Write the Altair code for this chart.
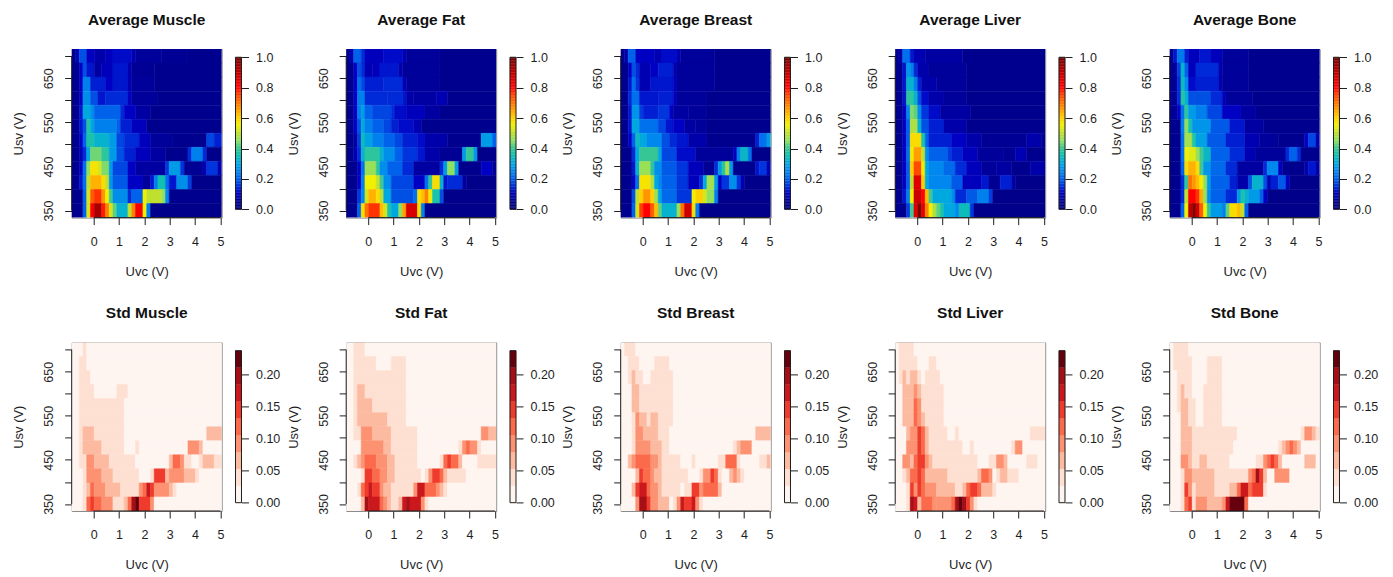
import altair as alt
import pandas as pd

# Every row is read top-to-bottom from the picture, as (run of columns, value) pairs over 40 Uvc columns.
# Average panels: value in hundredths of the 0..1 scale. Std panels: value in hundredths of a volt.
avg_muscle = [
 [1,2,1,8,2,18,2,10,3,7,2,9,5,11,1,8,7,5,7,4,9,3],
 [2,3,1,10,1,18,2,12,2,6,3,9,4,12,1,8,6,4,18,3],
 [2,3,1,10,2,24,4,13,2,10,4,12,1,8,6,5,18,3],
 [2,3,1,10,2,26,2,18,2,12,6,14,1,10,7,5,17,3],
 [2,3,1,12,2,30,1,26,7,20,1,14,3,10,4,6,19,3],
 [2,3,1,12,1,18,1,37,1,30,6,24,1,20,3,13,4,9,20,3],
 [2,3,1,10,1,20,2,36,4,32,2,28,2,17,4,14,3,9,6,5,9,3,2,17,2,13],
 [2,3,1,8,1,14,1,30,3,43,2,38,2,28,2,18,3,13,4,9,4,6,6,3,1,14,3,24,1,14,4,2],
 [2,3,1,10,1,22,1,45,2,57,1,52,2,44,1,28,4,17,2,10,8,6,1,15,3,28,1,15,5,4,1,8,3,15,1,8],
 [2,3,1,12,1,22,1,50,3,63,1,58,1,50,1,27,4,19,4,10,2,5,1,12,1,24,2,35,1,22,2,12,3,26,1,16,8,2],
 [3,3,1,20,1,52,1,72,2,76,1,66,1,55,1,40,4,26,1,14,3,20,1,55,4,50,1,45,1,25,14,3],
 [3,3,1,20,1,52,1,80,2,93,1,78,1,68,1,52,1,42,3,32,1,50,1,68,2,82,1,55,1,24,19,2],
]
avg_fat = [
 [1,3,1,8,2,20,1,14,5,9,5,11,1,8,9,5,15,3],
 [2,3,1,10,1,18,1,14,2,8,2,9,5,12,1,8,10,5,15,3],
 [2,3,1,10,1,22,1,17,5,13,5,14,1,9,9,5,15,3],
 [2,3,1,10,2,24,6,14,4,14,1,12,2,7,6,6,3,8,13,3],
 [2,3,1,10,1,24,1,28,2,20,5,17,1,14,3,11,5,9,4,6,15,3],
 [2,3,1,10,1,18,1,30,2,24,3,20,2,17,2,13,4,11,2,8,20,3],
 [2,3,1,6,1,16,1,34,2,29,3,24,3,20,2,17,4,13,2,11,6,7,9,3,3,28,1,20],
 [2,3,1,8,1,14,1,32,4,38,1,32,3,26,2,20,4,15,2,12,4,7,6,4,1,28,2,39,1,28,5,2],
 [3,3,1,10,1,22,3,46,1,38,2,26,4,20,3,14,7,6,1,14,1,28,2,45,1,28,6,3,3,10,1,4],
 [3,3,1,10,1,24,3,55,1,50,1,40,2,26,6,17,3,10,1,22,1,38,2,58,1,32,1,12,4,14,1,6,8,2],
 [3,3,1,15,1,25,1,52,2,63,1,58,1,50,2,30,6,18,1,22,1,58,1,62,1,68,1,56,2,36,1,18,14,2],
 [3,3,1,20,1,58,1,70,3,76,1,62,1,52,1,36,2,30,1,45,1,65,3,86,1,58,1,24,19,2],
]
avg_breast = [
 [1,3,1,7,2,20,5,10,2,8,4,11,1,8,9,5,15,3],
 [2,3,1,10,1,18,1,14,3,8,2,10,4,13,1,8,10,5,15,3],
 [2,3,1,12,1,22,1,15,3,8,6,12,1,9,10,5,15,3],
 [2,3,1,14,2,22,5,12,4,13,1,9,8,5,17,3],
 [2,3,1,12,2,27,1,16,4,13,3,15,1,10,4,6,5,5,17,3],
 [2,3,1,12,2,30,5,22,2,17,2,12,3,10,3,6,3,5,17,3],
 [2,3,1,10,1,20,1,34,2,30,4,25,2,18,2,14,3,12,5,7,13,3,1,13,2,22,1,28],
 [3,3,1,14,1,30,5,39,1,30,4,17,5,11,10,5,1,9,1,24,2,33,1,22,5,2],
 [3,3,1,12,1,32,3,46,1,38,2,26,4,19,3,15,4,9,3,4,1,14,1,28,1,38,1,48,1,28,6,3,1,12,2,15,1,8],
 [3,3,1,10,1,22,3,57,1,48,1,30,1,25,4,20,3,15,3,9,1,14,1,30,2,47,1,28,1,10,2,15,2,26,1,15,1,8,7,2],
 [3,3,1,18,1,50,1,60,2,66,1,60,1,46,1,30,4,21,4,15,1,55,2,60,1,52,2,45,1,24,14,2],
 [3,3,1,20,1,52,1,75,2,80,1,72,1,62,1,42,4,32,1,46,1,70,2,88,1,58,1,24,19,2],
]
avg_liver = [
 [1,3,1,7,2,22,1,12,3,8,10,6,22,3],
 [2,3,1,12,1,28,1,24,1,14,3,7,10,5,21,3],
 [2,3,1,12,2,32,1,24,1,13,4,7,8,5,21,3],
 [2,3,1,12,2,38,1,32,1,18,2,11,4,7,6,5,21,3],
 [2,3,1,10,1,25,1,44,1,42,1,26,2,15,3,11,8,6,20,3],
 [2,3,1,10,1,20,2,48,1,32,2,18,4,13,6,7,21,3],
 [2,3,1,10,1,20,3,58,1,36,1,20,6,13,4,10,4,7,12,4,4,7,1,4],
 [2,3,1,10,1,22,1,56,2,65,1,50,1,26,5,20,1,16,3,13,4,9,7,5,3,4,3,8,5,3],
 [2,3,1,10,1,20,1,60,2,74,1,56,1,30,4,25,3,21,3,14,4,9,4,5,4,6,5,3,4,7],
 [2,3,1,10,1,20,1,50,2,85,1,60,1,30,6,25,3,19,5,9,2,12,3,4,3,13,1,7,8,2],
 [2,3,1,12,1,24,1,55,2,88,1,80,1,62,1,40,5,30,1,26,3,14,3,19,3,24,1,16,14,2],
 [3,3,1,16,1,40,1,85,1,98,1,85,1,68,1,55,1,48,1,42,1,36,3,30,1,25,3,34,1,15,19,2],
]
avg_bone = [
 [1,3,1,12,2,23,1,13,3,9,3,12,3,9,7,5,19,3],
 [2,4,1,16,1,32,1,20,2,9,6,14,1,8,7,5,19,3],
 [2,4,1,14,1,34,1,26,2,11,6,13,1,8,7,5,19,3],
 [2,4,1,14,1,37,1,32,2,18,4,18,3,14,1,9,7,5,18,3],
 [2,4,1,10,1,22,1,38,2,28,3,24,4,17,5,10,4,6,17,3],
 [3,3,1,24,1,45,1,36,5,27,5,19,4,12,5,6,15,3],
 [3,3,1,22,2,47,1,37,3,29,5,19,5,13,4,8,5,5,7,3,1,10,2,17,1,8],
 [3,3,1,22,1,55,2,53,1,46,1,40,2,33,5,20,4,14,3,8,8,5,1,14,2,20,1,14,5,3],
 [3,3,1,20,1,58,2,63,1,58,1,40,2,27,4,21,3,14,7,6,1,14,3,25,1,10,6,3,1,7,2,12,1,7],
 [3,3,1,14,1,38,1,70,1,66,1,62,1,56,1,45,1,28,5,20,2,13,3,7,1,18,3,32,1,18,1,8,2,13,2,19,1,10,8,2],
 [3,3,1,14,1,50,2,80,1,76,1,64,1,46,1,26,4,20,3,14,1,28,1,36,1,32,3,28,1,20,1,10,14,2],
 [3,3,1,20,1,55,1,90,1,97,1,88,1,72,1,55,1,38,3,28,1,24,1,42,2,58,1,62,1,50,1,20,19,2],
]
std_muscle = [
 [3,1,1,4,36,1],
 [2,1,2,4,36,1],
 [2,1,3,4,35,1],
 [2,1,4,4,6,1,3,4,25,1],
 [2,1,12,4,26,1],
 [2,1,12,4,26,1],
 [2,1,1,4,3,7,8,4,22,1,4,7],
 [2,1,1,4,5,7,6,4,3,1,1,4,13,1,3,9,1,7,5,1],
 [2,1,2,4,2,9,4,7,7,4,9,1,1,7,2,12,1,9,2,4,2,1,1,4,3,7,2,4],
 [3,1,1,4,4,9,3,7,7,4,3,1,1,4,3,15,1,7,4,9,3,7,1,4,6,1],
 [3,1,1,4,1,7,1,12,3,9,4,7,5,4,1,9,1,12,1,17,1,15,4,9,1,7,1,4,12,1],
 [3,1,1,4,1,12,1,15,2,12,3,9,3,4,1,7,1,12,1,20,1,22,3,15,1,9,18,1],
]
std_fat = [
 [2,1,3,4,35,1],
 [2,1,6,4,4,1,4,4,24,1],
 [2,1,14,4,24,1],
 [2,1,1,4,2,7,11,4,24,1],
 [2,1,1,4,4,7,9,4,24,1],
 [2,1,1,4,8,7,5,4,24,1],
 [2,1,2,4,3,9,5,7,7,4,17,1,2,9,2,7],
 [4,1,6,9,2,7,7,4,11,1,1,4,1,9,1,12,2,9,1,4,4,1],
 [2,1,1,4,1,7,1,9,3,12,3,9,2,7,6,4,6,1,1,4,1,12,1,15,2,12,1,7,4,1,5,4],
 [4,1,1,4,2,15,2,12,2,9,2,7,7,4,1,1,1,4,1,9,2,15,1,12,1,7,5,4,8,1],
 [3,1,1,4,1,12,1,15,1,17,2,15,1,9,2,7,6,4,1,9,2,17,3,12,1,9,1,7,1,4,13,1],
 [4,1,1,7,1,20,3,17,1,12,1,9,1,7,2,4,1,7,1,17,1,20,3,17,1,9,1,4,18,1],
]
std_breast = [
 [1,1,3,4,36,1],
 [2,1,3,4,4,1,4,4,27,1],
 [2,1,1,4,1,7,2,4,2,1,6,4,26,1],
 [3,1,2,7,9,4,26,1],
 [3,1,2,7,9,4,26,1],
 [3,1,1,4,1,9,2,7,1,4,2,7,4,4,26,1],
 [3,1,1,4,2,9,4,7,3,4,23,1,4,7],
 [3,1,1,4,4,9,3,7,2,4,17,1,1,4,1,7,3,9,5,1],
 [2,1,1,7,1,9,4,12,1,9,1,9,1,7,5,4,3,1,1,4,6,1,2,4,3,12,1,4,5,1,2,4,1,7,1,4],
 [4,1,1,7,1,15,2,12,1,9,2,7,7,4,3,1,1,4,2,9,1,15,1,12,1,4,2,1,1,7,1,9,1,7,1,4,7,1],
 [3,1,1,7,1,15,2,17,1,12,2,9,1,7,5,4,1,1,2,4,2,15,1,9,4,12,1,7,13,1],
 [4,1,1,9,2,20,1,15,2,9,3,7,1,1,1,4,1,9,1,17,2,15,1,17,1,9,1,4,18,1],
]
std_liver = [
 [1,1,4,4,35,1],
 [1,1,5,4,3,1,2,4,29,1],
 [1,1,1,4,1,7,1,4,2,7,1,4,1,1,4,4,28,1],
 [2,1,3,7,1,9,1,7,6,4,27,1],
 [2,1,3,7,1,12,1,9,6,4,27,1],
 [2,1,3,7,1,12,1,9,1,7,5,4,27,1],
 [3,1,1,7,2,9,1,15,1,12,1,7,5,4,2,1,1,4,19,1,4,4],
 [3,1,3,9,1,15,1,12,1,7,9,4,2,1,1,4,10,1,1,4,2,9,6,1],
 [2,1,2,9,1,7,1,12,2,15,1,9,1,7,12,4,3,1,2,4,2,9,1,7,5,1,3,4,2,1],
 [2,1,1,4,1,7,2,12,1,15,1,12,6,7,8,4,1,7,2,12,1,9,1,1,1,4,2,7,3,4,7,1],
 [3,1,1,4,1,15,1,9,1,15,1,12,3,9,5,7,2,4,1,7,1,12,2,15,1,12,3,7,1,4,13,1],
 [3,1,1,4,1,20,1,17,1,7,3,12,1,9,4,9,1,12,1,20,1,22,1,20,1,15,1,9,1,4,18,1],
]
std_bone = [
 [1,1,4,4,35,1],
 [1,1,5,4,4,1,4,4,26,1],
 [2,1,4,4,4,1,4,4,26,1],
 [2,1,1,4,1,7,2,4,3,1,5,4,26,1],
 [2,1,1,4,2,7,2,4,2,1,5,4,26,1],
 [3,1,2,7,2,4,2,1,5,4,26,1],
 [3,1,3,7,12,4,17,1,1,4,2,9,1,7,1,4],
 [3,1,3,7,11,4,12,1,1,4,1,7,1,9,1,12,1,9,1,7,5,1],
 [3,1,2,9,1,7,2,4,2,7,6,4,7,1,2,4,1,9,1,12,1,15,1,12,1,7,6,1,3,7,1,1],
 [3,1,1,4,2,9,6,7,9,4,1,9,1,12,1,20,1,15,1,7,2,1,4,9,8,1],
 [3,1,1,4,1,15,1,9,1,4,5,7,4,4,2,7,1,12,2,17,1,12,3,15,1,4,14,1],
 [3,1,1,4,1,12,1,15,1,4,3,9,4,7,1,9,1,17,4,22,1,12,19,1],
]

panel_titles_avg = ["Average Muscle", "Average Fat", "Average Breast", "Average Liver", "Average Bone"]
panel_titles_std = ["Std Muscle", "Std Fat", "Std Breast", "Std Liver", "Std Bone"]
avg_panels = [avg_muscle, avg_fat, avg_breast, avg_liver, avg_bone]
std_panels = [std_muscle, std_fat, std_breast, std_liver, std_bone]

uvc_domain = [-0.87, 5.05]
usv_domain = [334.0, 716.5]
uvc_ticks = [0, 1, 2, 3, 4, 5]
usv_ticks = [350, 400, 450, 500, 550, 600, 650, 700]
N_COLS, N_ROWS = 40, 12

avg_stops = [0, .05, .1, .15, .2, .25, .3, .35, .4, .45, .5, .55, .6, .65, .7, .75, .8, .9, 1]
avg_colors = ["#00007f", "#00009a", "#0000c4", "#0034dc", "#0062ea", "#0088ee", "#00a8e0", "#10c0b0",
              "#40c890", "#90e060", "#c0e030", "#f0f000", "#ffd000", "#ffa000", "#ff7000", "#ff4000",
              "#ff0000", "#c00000", "#700000"]
avg_ticks = [0, .2, .4, .6, .8, 1]
std_breaks = [.0264, .0528, .0792, .1056, .132, .1583, .1847, .2111]
std_colors = ["#fff5f0", "#fee0d2", "#fcbba1", "#fc9272", "#fb6a4a", "#ef3b2c", "#cb181d", "#a50f15", "#67000d"]
std_ticks = [0, .05, .1, .15, .2]
avg_bar_levels = [i / 100 for i in range(101)]
std_bar_levels = [0.0] + std_breaks + [0.2375]

W, H = 150, 168.6
BAR_GAP, BAR_W = 13.8, 6
FONT = "Liberation Sans"
INK = "#1e1e1e"


def cells(rows):
    """Turn run-length rows into one rectangle per run, on the Uvc/Usv grid."""
    dx = (uvc_domain[1] - uvc_domain[0]) / N_COLS
    dy = (usv_domain[1] - usv_domain[0]) / N_ROWS
    out = []
    for r, row in enumerate(rows):
        c = 0
        for n, v in zip(row[0::2], row[1::2]):
            c2 = min(c + n, N_COLS)
            out.append({"x0": uvc_domain[0] + c * dx, "x1": uvc_domain[0] + c2 * dx,
                        "y1": usv_domain[1] - r * dy, "y0": usv_domain[1] - (r + 1) * dy,
                        "v": v / 100})
            c = c2
        if c < N_COLS:
            out[-1]["x1"] = uvc_domain[1]
    return pd.DataFrame(out)


def panel(rows, title, color_scale, levels, ticks, fmt):
    xs = alt.Scale(domain=uvc_domain, nice=False, zero=False)
    ys = alt.Scale(domain=usv_domain, nice=False, zero=False)
    x_axis = alt.Axis(values=uvc_ticks, format="d", domain=False, grid=False, tickSize=7,
                      tickColor=INK, labelFlush=False, labelOverlap=False,
                      labelPadding=11, titlePadding=17)
    rect = alt.Chart(cells(rows)).mark_rect(clip=True).encode(
        x=alt.X("x0:Q", scale=xs, title="Uvc (V)", axis=x_axis),
        x2="x1:Q",
        y=alt.Y("y0:Q", scale=ys, title="Usv (V)",
                axis=alt.Axis(values=usv_ticks, domain=False, grid=False, tickSize=7, tickColor=INK,
                              labelAngle=270, labelAlign="center", labelBaseline="bottom",
                              labelExpr="datum.value % 100 == 50 ? datum.label : ''",
                              labelOverlap=False, labelFlush=False, labelPadding=9, titlePadding=17)),
        y2="y1:Q",
        color=alt.Color("v:Q", scale=color_scale, legend=None),
        stroke=alt.Stroke("v:Q", scale=color_scale, legend=None),
        strokeWidth=alt.value(0.5),
    )
    xline = alt.Chart(pd.DataFrame({"lo": [uvc_ticks[0]], "hi": [uvc_ticks[-1]]})).mark_rule(color=INK).encode(
        x=alt.X("lo:Q", scale=xs, title="Uvc (V)", axis=x_axis), x2="hi:Q", y=alt.value(H))
    yline = alt.Chart(pd.DataFrame({"lo": [usv_ticks[0]], "hi": [usv_ticks[-1]]})).mark_rule(color=INK).encode(
        y=alt.Y("lo:Q", scale=ys, axis=None, title=None), y2="hi:Q", x=alt.value(0))

    # colour bar: a second, independent y scale whose axis sits at the bar's right edge
    top = levels[-1]
    span = top / 152
    bar_scale = alt.Scale(domain=[-8.3 * span, top + 8.3 * span], nice=False, zero=False)
    df = pd.DataFrame({"lo": levels[:-1], "hi": levels[1:]})
    bar = alt.Chart(df).mark_rect().encode(
        x=alt.value(W + BAR_GAP), x2=alt.value(W + BAR_GAP + BAR_W),
        y=alt.Y("lo:Q", scale=bar_scale, title=None,
                axis=alt.Axis(orient="right", offset=BAR_GAP + BAR_W, values=ticks, format=fmt, domain=False,
                              grid=False, tickSize=7, tickColor=INK, labelPadding=7,
                              labelFlush=False, labelOverlap=False)),
        y2="hi:Q",
        color=alt.Color("lo:Q", scale=color_scale, legend=None),
        stroke=alt.Stroke("lo:Q", scale=color_scale, legend=None),
        strokeWidth=alt.value(0.3),
    )
    frame = alt.Chart(pd.DataFrame({"lo": [0], "hi": [top]})).mark_rect(filled=False, stroke=INK, strokeWidth=1).encode(
        x=alt.value(W + BAR_GAP), x2=alt.value(W + BAR_GAP + BAR_W),
        y=alt.Y("lo:Q", scale=bar_scale, axis=None, title=None), y2="hi:Q")
    return alt.layer(rect, xline, yline, bar, frame).resolve_scale(y="independent").properties(
        width=W, height=H,
        title=alt.TitleParams(title, font=FONT, fontSize=15.5, fontWeight="bold", color="#111111",
                              anchor="middle", offset=21))


avg_scale = alt.Scale(domain=avg_stops, range=avg_colors, interpolate="rgb", clamp=True)
std_scale = alt.Scale(type="threshold", domain=std_breaks, range=std_colors)

panels = [panel(p, t, avg_scale, avg_bar_levels, avg_ticks, ".1f") for p, t in zip(avg_panels, panel_titles_avg)]
panels += [panel(p, t, std_scale, std_bar_levels, std_ticks, ".2f") for p, t in zip(std_panels, panel_titles_std)]

chart = alt.concat(*panels, columns=5, spacing=alt.RowColnumber(column=124.5, row=124.4), bounds="flush").resolve_scale(
    color="independent", stroke="independent"
).properties(
    padding={"left": 3.7, "top": 4, "right": 5, "bottom": 5}
).configure_view(stroke="#8a8a8a", strokeWidth=1).configure_axis(
    labelFont=FONT, titleFont=FONT, labelFontSize=12.5, titleFontSize=13,
    labelColor=INK, titleColor=INK, titleFontWeight="normal", tickWidth=1
)

chart.save("out.html", embed_options={"renderer": "svg", "actions": False})
